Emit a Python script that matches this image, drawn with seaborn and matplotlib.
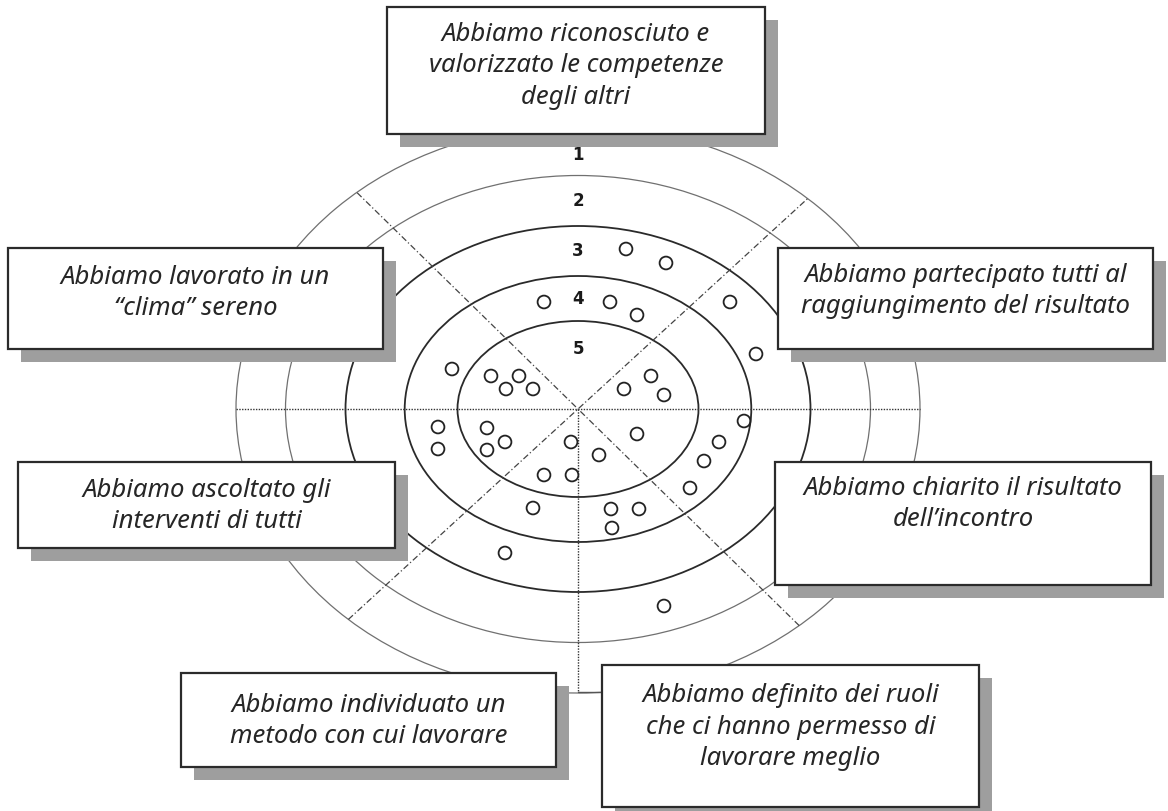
import numpy as np
import pandas as pd
import matplotlib
matplotlib.use("Agg")
import matplotlib.pyplot as plt
import seaborn as sns
from matplotlib.patches import Ellipse, Rectangle

# ---------------- data ----------------
levels = ["1", "2", "3", "4", "5"]
ring_a = [342, 292.5, 232.5, 173.3, 120.5]      # horizontal semi-axis of each ring
ring_b = [284, 233.5, 183, 133, 88]             # vertical semi-axis of each ring

pts_x = [48, 88, -34, 32, 59, 152, 178,
         -126, -87, -59, -72, -45, 46, 73, 86,
         166, -140, -140, -91, -91, -73, -7, 21, 59, 141, 126, 112,
         -34, -6, -45, 33, 61, 34, -73, 86]
pts_y = [160, 146, 107, 107, 94, 107, 55,
         40, 33, 33, 20, 20, 20, 33, 14,
         -12, -18, -40, -19, -41, -33, -33, -46, -25, -33, -52, -79,
         -66, -66, -99, -100, -100, -119, -144, -197]

statements = [
    "Abbiamo riconosciuto e\nvalorizzato le competenze\ndegli altri",
    "Abbiamo lavorato in un\n\u201cclima\u201d sereno",
    "Abbiamo partecipato tutti al\nraggiungimento del risultato",
    "Abbiamo ascoltato gli\ninterventi di tutti",
    "Abbiamo chiarito il risultato\ndell\u2019incontro",
    "Abbiamo individuato un\nmetodo con cui lavorare",
    "Abbiamo definito dei ruoli\nche ci hanno permesso di\nlavorare meglio",
]

diag_angles = [42.5, 135.6]  # degrees of the two dash-dot diagonals

# ---------------- style ----------------
sns.set_style("white")
plt.rcParams["font.family"] = ["Noto Sans", "DejaVu Sans"]

W, H = 1168, 811
CX, CY = 578, 409
fig = plt.figure(figsize=(W / 100, H / 100), dpi=100)
ax = fig.add_axes([0, 0, 1, 1])
ax.set_xlim(-CX, W - CX)
ax.set_ylim(CY - H, CY)
ax.axis("off")


def px(x):
    return x - CX


def py(y):
    return CY - y


# rings
for i, (a, b) in enumerate(zip(ring_a, ring_b)):
    dark = i >= 2
    ax.add_patch(Ellipse((0, 0), 2 * a, 2 * b, fill=False,
                         ec="#2a2a2a" if dark else "#707070",
                         lw=1.3 if dark else 0.9, zorder=2))

# level numbers
level_y = [(ring_b[i] + ring_b[i + 1]) / 2 for i in range(len(ring_b) - 1)]
level_y[0] -= 5
level_y.append(ring_b[-1] - 28)
for lab, yy in zip(levels, level_y):
    ax.text(0, yy, lab, ha="center", va="center", fontsize=12,
            fontweight="bold", color="#1a1a1a", family="DejaVu Sans", zorder=3)

# axes-like dotted lines
a0, b0 = ring_a[0], ring_b[0]
ax.plot([-a0, a0], [0, 0], ls=(0, (1, 1)), color="#333333", lw=1.0, zorder=2)
ax.plot([0, 0], [0, -b0 + 1], ls=(0, (1, 1)), color="#333333", lw=1.0, zorder=2)
ax.plot([0, 24], [-b0 + 1, -b0 + 1], color="#555555", lw=1.0, zorder=2)

# diagonals (dash-dot) through centre to outer ring
for ang in diag_angles:
    t = np.deg2rad(ang)
    c, s = np.cos(t), np.sin(t)
    r = 1 / np.sqrt((c / a0) ** 2 + (s / b0) ** 2)
    ax.plot([-r * c, r * c], [-r * s, r * s], ls=(0, (5, 2, 1, 2)),
            color="#444444", lw=0.9, zorder=2)

# points
df = pd.DataFrame({"x": pts_x, "y": pts_y})
sns.scatterplot(data=df, x="x", y="y", ax=ax, marker="o", s=85,
                facecolors="none", edgecolor="#222222", linewidth=1.3,
                zorder=5, legend=False)

# boxes: (left, top, right, bottom, text centre y)
boxes = [
    (387, 7, 765, 134, 66),
    (8, 248, 383, 349, 293),
    (778, 248, 1153, 349, 291),
    (18, 462, 395, 548, 506),
    (775, 462, 1151, 585, 504),
    (181, 673, 556, 767, 721),
    (602, 665, 979, 807, 727),
]
sh = 13
for (l, t, r, bt, ty), txt in zip(boxes, statements):
    ax.add_patch(Rectangle((px(l + sh), py(bt + sh)), r - l, bt - t,
                           fc="#9e9e9e", ec="none", zorder=6))
    ax.add_patch(Rectangle((px(l), py(bt)), r - l, bt - t,
                           fc="white", ec="#2b2b2b", lw=1.6, zorder=7))
    ax.text(px((l + r) / 2), py(ty), txt, ha="center", va="center",
            fontsize=18.5, style="italic", color="#262626",
            linespacing=1.34, zorder=8)

fig.savefig("out.png", dpi=100, facecolor="white")
